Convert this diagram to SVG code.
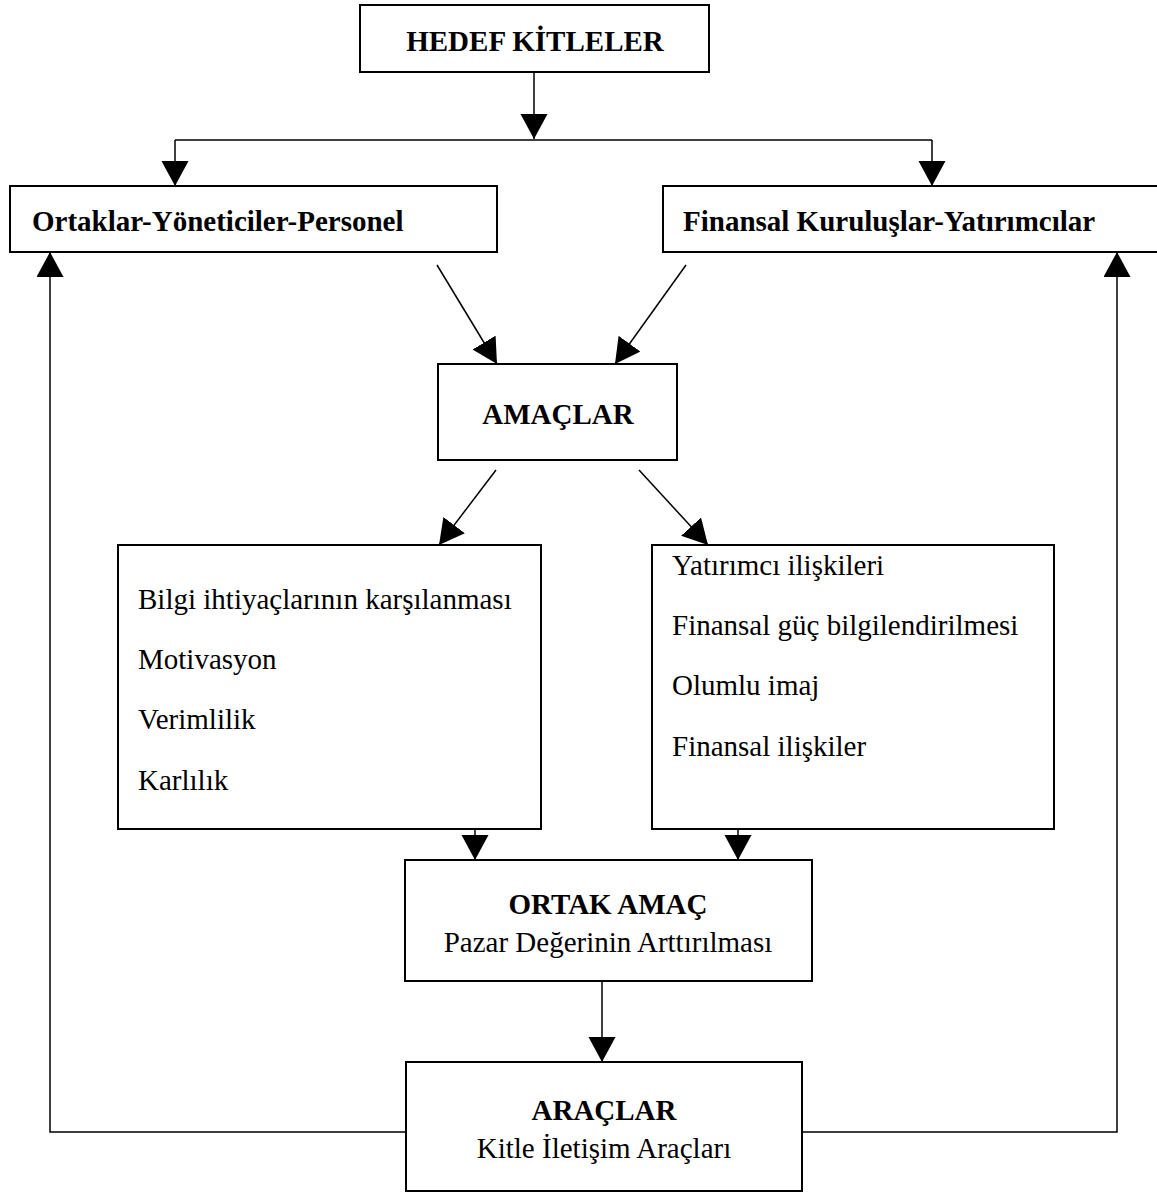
<svg xmlns="http://www.w3.org/2000/svg" width="1157" height="1193" viewBox="0 0 1157 1193">
<style>
.box{fill:#fff;stroke:#000;stroke-width:2}
.b{font-family:"Liberation Serif",serif;font-weight:bold;font-size:29px;fill:#000}
.r{font-family:"Liberation Serif",serif;font-size:29px;fill:#000}
.c{text-anchor:middle}
.ln{fill:none;stroke:#000;stroke-width:1.5}
</style>
<defs>
<marker id="ah" markerUnits="userSpaceOnUse" markerWidth="26" markerHeight="28" refX="25" refY="13.5" orient="auto" viewBox="0 0 26 28">
<path d="M0,0 L25,13.5 L0,27 z" fill="#000"/>
</marker>
</defs>
<rect width="1157" height="1193" fill="#fff"/>
<g id="connectors">
<line class="ln" x1="534" y1="72" x2="534" y2="139" marker-end="url(#ah)"/>
<line class="ln" x1="175" y1="140" x2="932" y2="140"/>
<line class="ln" x1="175" y1="140" x2="175" y2="186" marker-end="url(#ah)"/>
<line class="ln" x1="932" y1="140" x2="932" y2="186" marker-end="url(#ah)"/>
<line class="ln" x1="437" y1="265" x2="497" y2="364" marker-end="url(#ah)"/>
<line class="ln" x1="686" y1="265" x2="615" y2="364" marker-end="url(#ah)"/>
<line class="ln" x1="496" y1="470" x2="439" y2="545" marker-end="url(#ah)"/>
<line class="ln" x1="639" y1="470" x2="708" y2="545" marker-end="url(#ah)"/>
<line class="ln" x1="475" y1="829" x2="475" y2="860" marker-end="url(#ah)"/>
<line class="ln" x1="738" y1="829" x2="738" y2="860" marker-end="url(#ah)"/>
<line class="ln" x1="602" y1="981" x2="602" y2="1062" marker-end="url(#ah)"/>
<polyline class="ln" points="406,1132 50,1132 50,252" marker-end="url(#ah)"/>
<polyline class="ln" points="802,1132 1117,1132 1117,252" marker-end="url(#ah)"/>
</g>
<g id="hedef">
<rect class="box" x="360" y="5" width="349" height="67"/>
<text class="b c" x="535" y="51">HEDEF KİTLELER</text>
</g>
<g id="ortaklar">
<rect class="box" x="10" y="186" width="487" height="66"/>
<text class="b" x="32" y="231">Ortaklar-Yöneticiler-Personel</text>
</g>
<g id="finansal">
<rect class="box" x="663" y="186" width="500" height="66"/>
<text class="b" x="683" y="231">Finansal Kuruluşlar-Yatırımcılar</text>
</g>
<g id="amaclar">
<rect class="box" x="438" y="364" width="239" height="96"/>
<text class="b c" x="558" y="424">AMAÇLAR</text>
</g>
<g id="sol-liste">
<rect class="box" x="118" y="545" width="423" height="284"/>
<text class="r" x="138" y="609">Bilgi ihtiyaçlarının karşılanması</text>
<text class="r" x="138" y="669">Motivasyon</text>
<text class="r" x="138" y="729">Verimlilik</text>
<text class="r" x="138" y="790">Karlılık</text>
</g>
<g id="sag-liste">
<rect class="box" x="652" y="545" width="402" height="284"/>
<text class="r" x="672" y="575">Yatırımcı ilişkileri</text>
<text class="r" x="672" y="635">Finansal güç bilgilendirilmesi</text>
<text class="r" x="672" y="695">Olumlu imaj</text>
<text class="r" x="672" y="756">Finansal ilişkiler</text>
</g>
<g id="ortak-amac">
<rect class="box" x="405" y="860" width="407" height="121"/>
<text class="b c" x="608" y="914">ORTAK AMAÇ</text>
<text class="r c" x="608" y="952">Pazar Değerinin Arttırılması</text>
</g>
<g id="araclar">
<rect class="box" x="406" y="1062" width="396" height="129"/>
<text class="b c" x="604" y="1120">ARAÇLAR</text>
<text class="r c" x="604" y="1158">Kitle İletişim Araçları</text>
</g>
</svg>
